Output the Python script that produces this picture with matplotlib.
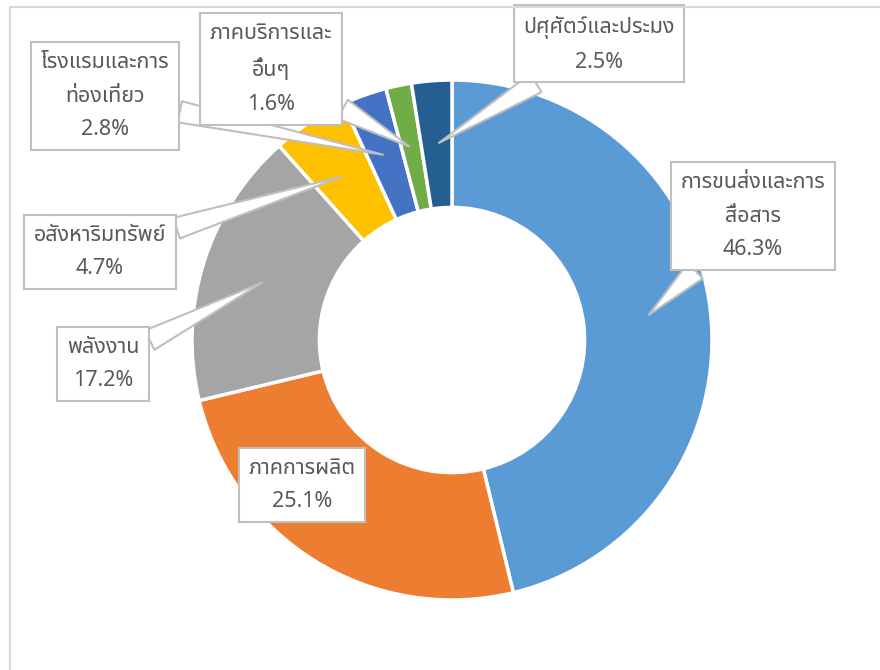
import numpy as np
import matplotlib
matplotlib.use("Agg")
import matplotlib.pyplot as plt
from matplotlib.lines import Line2D

plt.rcParams['font.family'] = ['Noto Sans Thai', 'DejaVu Sans']

# data, clockwise from 12 o'clock
sectors = ["การขนส่งและการ\nสื่อสาร", "ภาคการผลิต", "พลังงาน", "อสังหาริมทรัพย์",
           "โรงแรมและการ\nท่องเที่ยว", "ภาคบริการและ\nอื่นๆ", "ปศุศัตว์และประมง"]
shares = [46.3, 25.1, 17.2, 4.7, 2.8, 1.6, 2.5]
colors = ["#5B9BD5", "#ED7D31", "#A5A5A5", "#FFC000", "#4472C4", "#70AD47", "#255E91"]

# label box centres (pixels in an 880x670 canvas) and whether a pointer is drawn
label_px = [(753, 216), (302, 485), (103, 364), (100, 252), (105, 96), (271, 69), (599, 44)]
has_pointer = [True, False, True, True, True, True, True]

W, H = 880, 670
cx, cy, R = 452, 340, 260

fig = plt.figure(figsize=(8.8, 6.7), dpi=100)
ax = fig.add_axes([0, 0, 1, 1])
ax.axis('off')

# chart area border (left and top only visible)
fig.add_artist(Line2D([9.5 / W, 9.5 / W], [0, 1 - 6.5 / H], color="#D9D9D9", lw=1.5))
fig.add_artist(Line2D([9.5 / W, 1], [1 - 6.5 / H, 1 - 6.5 / H], color="#D9D9D9", lw=1.5))

wedges, _ = ax.pie(shares, colors=colors, startangle=90, counterclock=False,
                   radius=1.0, wedgeprops=dict(width=0.49, edgecolor="white", linewidth=2.5))
ax.set_xlim(-cx / R, (W - cx) / R)
ax.set_ylim(-(H - cy) / R, cy / R)
ax.set_aspect('auto')

box = dict(boxstyle="square,pad=0.45", fc="white", ec="#BFBFBF", lw=1.5)
fs = 15.5
ls = 1.8
for w, name, val, (px, py), ptr in zip(wedges, sectors, shares, label_px, has_pointer):
    txt = f"{name}\n{val}%"
    lx, ly = (px - cx) / R, (cy - py) / R
    if ptr:
        ang = np.deg2rad((w.theta1 + w.theta2) / 2)
        tip = (0.755 * np.cos(ang), 0.755 * np.sin(ang))
        ax.annotate(txt, xy=tip, xytext=(lx, ly), ha="center", va="center",
                    fontsize=fs, color="#595959", linespacing=ls, bbox=box,
                    arrowprops=dict(arrowstyle="wedge,tail_width=1.0,shrink_factor=0.5",
                                    fc="white", ec="#BFBFBF", lw=1.5, shrinkA=0))
    else:
        ax.text(lx, ly, txt, ha="center", va="center", fontsize=fs, color="#595959",
                linespacing=ls, bbox=box)

fig.savefig("out.png", dpi=100)
